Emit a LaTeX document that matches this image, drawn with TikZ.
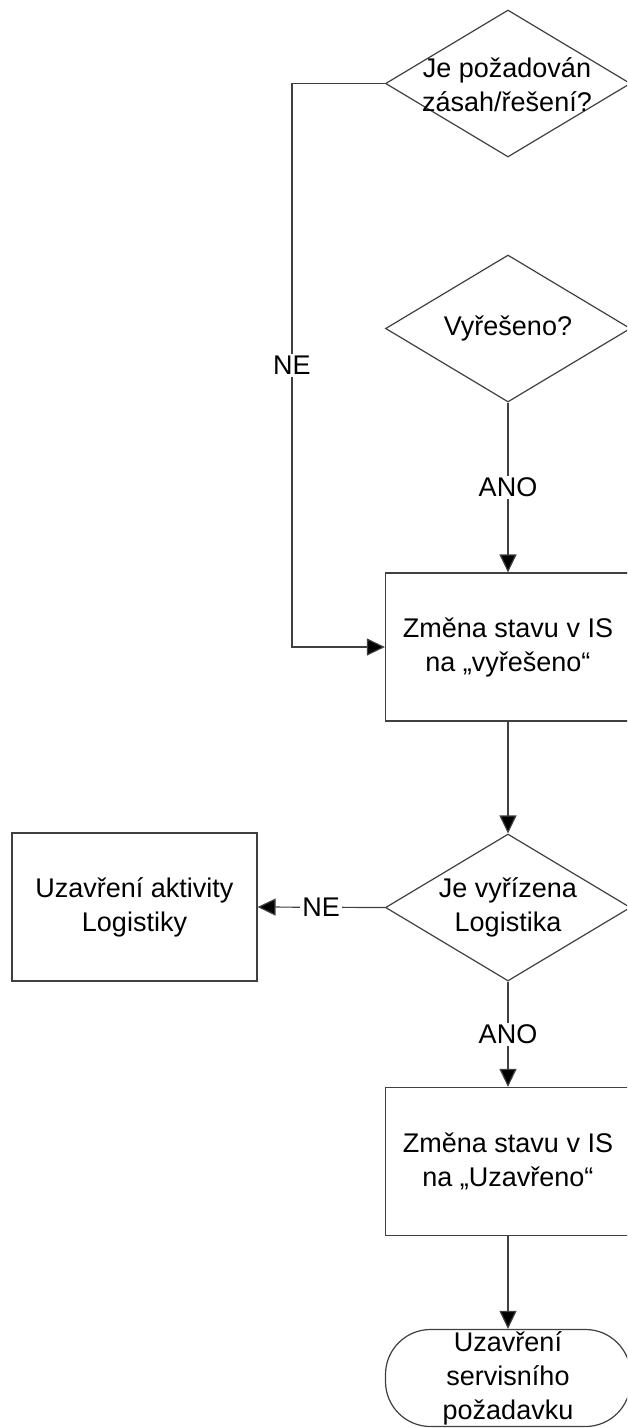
\documentclass[tikz,border=0pt]{standalone}
\usepackage{fontspec}
\setmainfont{Liberation Sans}
\usetikzlibrary{shapes.geometric,arrows.meta}
\begin{document}
\begin{tikzpicture}[x=1pt,y=-1pt,
  every node/.style={font=\fontsize{27}{34}\selectfont},
  ln/.style={draw=black!75,line width=1.2pt},
  dia/.style={diamond,ln,minimum width=245pt,minimum height=147pt,inner sep=0pt},
  box/.style={rectangle,ln,minimum width=245pt,minimum height=148pt,inner sep=0pt,align=center},
  term/.style={rectangle,ln,rounded corners=45pt,minimum width=245pt,minimum height=97pt,inner sep=0pt,align=center},
  txt/.style={align=center,inner sep=0pt},
  arr/.style={ln,-{Triangle[length=18pt,width=17pt,fill=black]}},
  lbl/.style={fill=white,inner sep=2pt}]
\useasboundingbox (0,0) rectangle (627,1428);
\clip (0,0) rectangle (627,1428);
\fill[white] (0,0) rectangle (627,1428);
% diamonds
\node[dia] (d1) at (508,83.5) {};
\node[txt] (t1) at (507,85) {Je požadován\\zásah/řešení?};
\node[dia] (d2) at (508,328.5) {};
\node[txt] (t2) at (508,328) {Vyřešeno?};
% boxes
\node[box] (b1) at (508,647) {Změna stavu v IS\\na „vyřešeno“};
\node[dia] (d3) at (508,907.5) {};
\node[txt] (t3) at (508,907) {Je vyřízena\\Logistika};
\node[box] (lg) at (134.5,907) {Uzavření aktivity\\Logistiky};
\node[box] (b2) at (508,1161.5) {Změna stavu v IS\\na „Uzavřeno“};
\node[term] (tm) at (508,1378) {Uzavření\\servisního\\požadavku};
% connectors
\coordinate (c1) at (292,83.5);
\coordinate (c2) at (292,647);
\draw[arr] (d1.west) -- (c1) -- node[lbl,midway]{NE} (c2) -- (b1.west);
\draw[arr] (d2.south) -- node[lbl,midway]{ANO} (b1.north);
\draw[arr] (b1.south) -- (d3.north);
\draw[arr] (d3.west) -- node[lbl,midway]{NE} (lg.east);
\draw[arr] (d3.south) -- node[lbl,midway]{ANO} (b2.north);
\draw[arr] (b2.south) -- (tm.north);
\end{tikzpicture}
\end{document}
